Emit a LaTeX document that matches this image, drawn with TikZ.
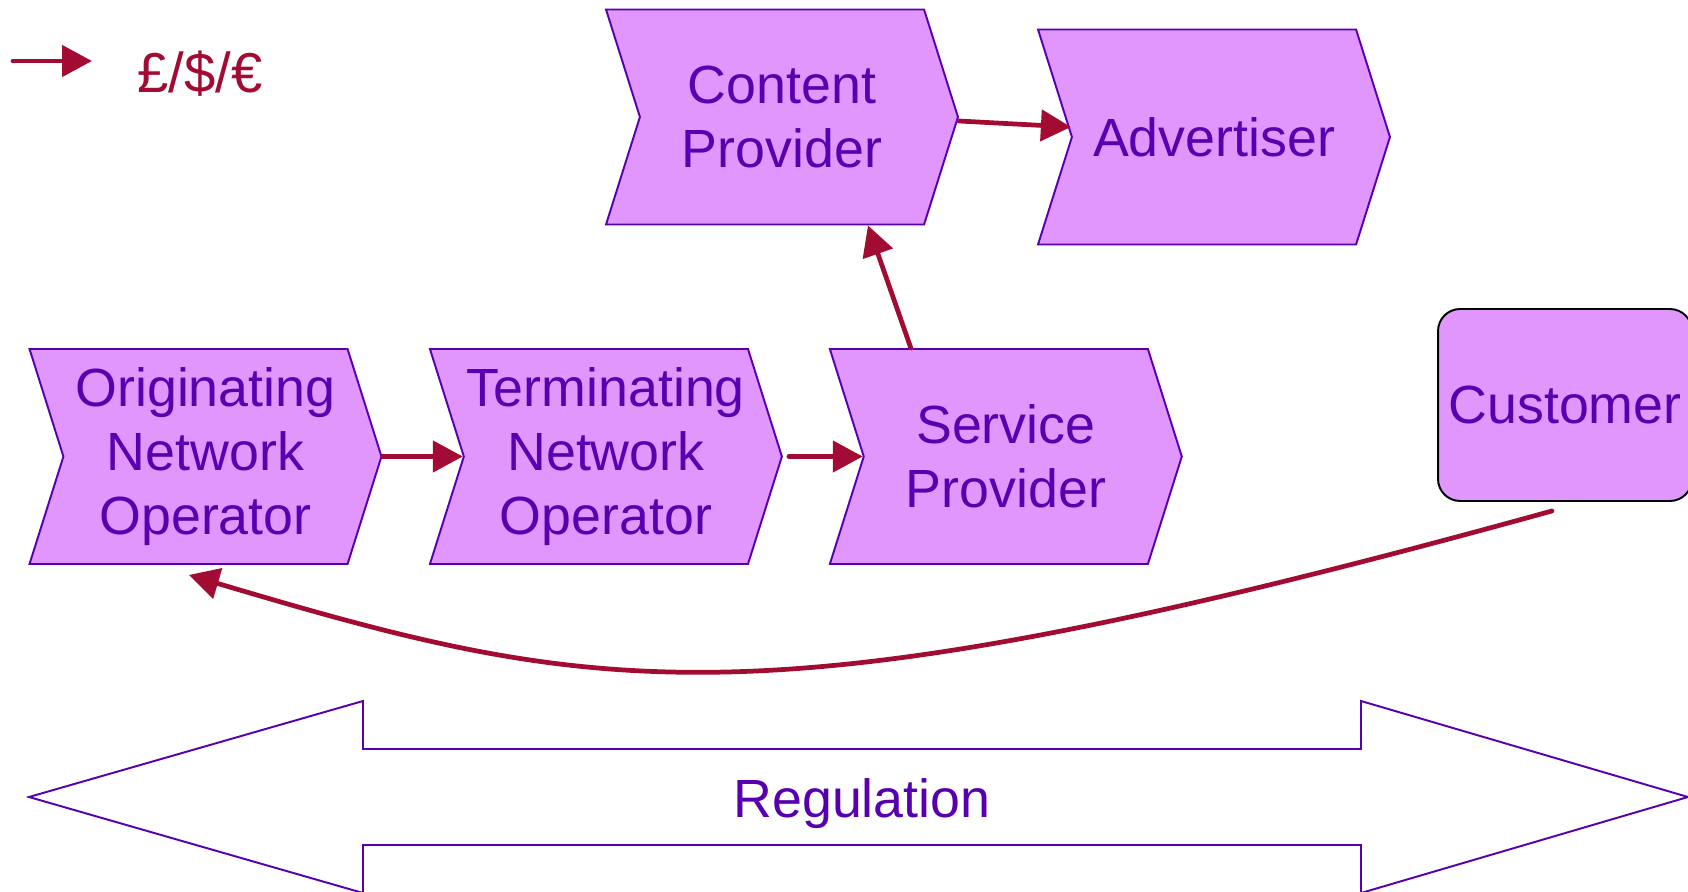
\documentclass[tikz,border=0pt]{standalone}
\usepackage{fontspec}
\setmainfont{Liberation Sans}
\usetikzlibrary{shapes.symbols, arrows.meta}
\definecolor{boxfill}{RGB}{225,150,253}
\definecolor{boxline}{RGB}{88,0,176}
\definecolor{money}{RGB}{163,12,50}

\begin{document}
\begin{tikzpicture}[x=0.02cm, y=-0.02cm]
    \tikzstyle{player}=[signal, signal to=east, signal from=west, signal pointer angle=145, draw=boxline, line width=1.1pt, fill=boxfill, text=boxline, minimum width=7.04cm, minimum height=4.3cm, inner sep=0pt, font=\fontsize{30.6}{36.6}\selectfont, align=center];
    \tikzstyle{pay}=[draw=money, line width=2.7pt, line cap=round, -{Triangle[length=0.6cm, width=0.62cm]}];

    \useasboundingbox (0,0) rectangle (1688,892);

    \node[player] (ono) at (205.5,456.5) {Originating\\Network\\Operator};
    \node[player, right of=ono, node distance=8.01cm] (tno) {Terminating\\Network\\Operator};
    \node[player, right of=tno, node distance=8cm] (sp) {Service\\Provider};
    \node[player] (cp) at (782,117) {Content\\Provider};
    \node[player] (adv) at (1214,137) {Advertiser};
    \node[draw=black, line width=1.1pt, fill=boxfill, rounded corners=0.44cm, minimum width=5.08cm, minimum height=3.84cm, text=boxline, font=\fontsize{30.6}{36.6}\selectfont] (cust) at (1565,405) {Customer};

    \draw[pay] (ono.east) -- (tno.west);
    \draw[pay] ([xshift=0.12cm]tno.east) -- (sp.west);
    \draw[pay] ([xshift=-1.9cm]sp.north) -- ([xshift=1.72cm]cp.south);
    \draw[pay] ([yshift=-0.08cm]cp.east) -- ([yshift=0.2cm]adv.west);
    \draw[pay] ([xshift=-0.26cm, yshift=-0.18cm]cust.south) .. controls (760,730) and (600,697) .. ([xshift=-0.33cm, yshift=-0.2cm]ono.south);

    % key
    \coordinate (key0) at (13,61);
    \coordinate (key1) at (92,61);
    \draw[pay] (key0) -- (key1);
    \node[text=money, font=\fontsize{32}{38}\selectfont, anchor=west, inner sep=0pt] (cur) at (137,74) {£/\$/€};

    \draw[boxline, line width=1.1pt, fill=white] (29,797) -- (363,701) -- (363,749) -- (1361,749) -- (1361,701) -- (1688,797) -- (1361,893) -- (1361,845) -- (363,845) -- (363,893) -- cycle;
    \node[text=boxline, font=\fontsize{30.6}{36.6}\selectfont] (reg) at (862,804) {Regulation};
\end{tikzpicture}
\end{document}
